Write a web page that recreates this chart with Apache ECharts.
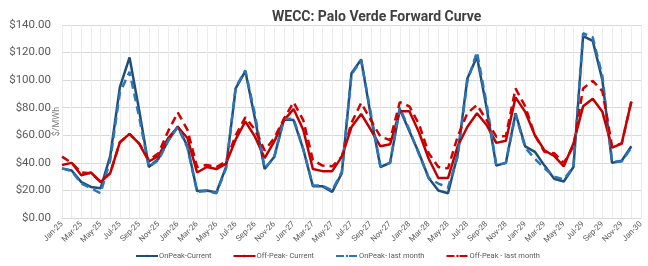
<!DOCTYPE html>
<html>
<head>
<meta charset="utf-8">
<script src="https://cdn.jsdelivr.net/npm/echarts@6/dist/echarts.min.js"></script>
<style>
  html, body { margin: 0; padding: 0; background: #fff; }
  #chart { width: 648px; height: 266px; }
</style>
</head>
<body>
<div id="chart"></div>
<script>
// months Jan-25 .. Jan-30
var months = ['Jan', 'Feb', 'Mar', 'Apr', 'May', 'Jun', 'Jul', 'Aug', 'Sep', 'Oct', 'Nov', 'Dec'];
var categories = [];
for (var y = 25; y <= 29; y++) {
  for (var m = 0; m < 12; m++) categories.push(months[m] + '-' + y);
}
categories.push('Jan-30');

var onPeakCurrent = [36, 34.5, 26, 22.5, 21.5, 45, 95, 116.5, 78, 37, 43, 56,
  66.5, 52, 19.5, 20, 18.5, 37, 94, 106.5, 72, 35.5, 44.5, 71.5,
  71, 50, 23, 23, 19, 32.5, 105, 115, 74, 37, 40, 79,
  63, 47, 29, 20, 18, 46, 101, 117, 80, 38, 40, 76,
  52, 48, 38, 28.5, 26.5, 37, 132, 128.5, 100, 40, 41.5, 52];

var offPeakCurrent = [38.5, 40, 31, 33, 26, 32.5, 55, 61, 54, 41, 45, 58,
  66, 58, 33, 37, 35.5, 39.5, 57, 70, 59, 43.5, 55.5, 71,
  79, 64, 35.5, 34, 34, 44.5, 66, 75.5, 64, 52, 53.5, 77.5,
  77.5, 62, 43, 29, 29, 52, 66, 76, 67.5, 54.5, 56, 87.5,
  77, 60, 49, 45, 37.5, 54, 81, 86.5, 77, 51, 54, 84.5];

var onPeakLast = [36, 34, 25, 21.5, 18, 42, 91, 106, 73, 37, 42, 56,
  66, 51, 19, 19.5, 18, 36, 95, 107, 75, 36, 44, 72,
  72, 50, 23.5, 23.5, 20, 33.5, 104, 114.5, 76, 37.5, 40, 80,
  64, 46, 29, 25, 22, 44.5, 99, 120.5, 83, 38.5, 40, 75,
  51, 43, 36, 30, 28, 37, 134, 131, 103, 41, 41, 51];

var offPeakLast = [44.5, 40, 33, 32.5, 26.5, 32.5, 55, 61, 54, 42, 47, 63,
  76.5, 64, 37, 38.5, 37, 41, 60, 73, 64, 49, 58, 72,
  84, 71, 42, 38, 37.5, 44.5, 69, 83.5, 71, 59, 56.5, 84,
  81, 68, 47, 37, 36, 59, 76, 82, 71, 59, 59.5, 94,
  81, 60, 48, 47, 40, 52, 94, 99.5, 92, 52, 54, 84.5];

var font = 'Roboto, sans-serif';
var chart = echarts.init(document.getElementById('chart'));

function lineSeries(name, data, color, dashed) {
  return {
    name: name,
    type: 'line',
    data: data,
    showSymbol: false,
    symbol: 'none',
    animation: false,
    lineStyle: { color: color, width: 2.5, type: dashed ? [8, 5] : 'solid' },
    itemStyle: { color: color }
  };
}

chart.setOption({
  backgroundColor: '#ffffff',
  textStyle: { fontFamily: font },
  title: {
    text: 'WECC: Palo Verde Forward Curve',
    left: 267,
    top: 5,
    textStyle: { fontSize: 14, fontWeight: 'bold', color: '#404040', fontFamily: font }
  },
  legend: {
    left: 130,
    bottom: 1,
    itemWidth: 22,
    itemHeight: 3,
    itemGap: 21,
    textStyle: { fontSize: 7.5, color: '#595959', fontFamily: font, padding: [0, 0, 0, -4] },
    data: ['OnPeak-Current', 'Off-Peak- Current', 'OnPeak- last month', 'Off-Peak - last month']
  },
  grid: { left: 62, right: 7, top: 25, bottom: 48 },
  xAxis: {
    type: 'category',
    data: categories,
    boundaryGap: false,
    axisLine: { lineStyle: { color: '#d9d9d9' } },
    axisTick: { show: false },
    axisLabel: { interval: 1, rotate: 45, fontSize: 8, color: '#595959', margin: 5 },
    splitLine: { show: true, interval: 0, lineStyle: { color: '#ececec', width: 1 } }
  },
  yAxis: {
    type: 'value',
    min: 0,
    max: 140,
    interval: 20,
    name: '$/MWh',
    nameLocation: 'middle',
    nameRotate: 90,
    nameGap: 1,
    nameMoveOverlap: false,
    nameTextStyle: { fontSize: 9, color: '#7f7f7f' },
    axisLine: { show: false },
    axisTick: { show: false },
    axisLabel: {
      fontSize: 11.5,
      color: '#595959',
      margin: 11,
      formatter: function (v) { return '$' + v.toFixed(2); }
    },
    splitLine: { lineStyle: { color: '#d9d9d9' } }
  },
  series: [
    lineSeries('OnPeak-Current', onPeakCurrent, '#1f4e79', false),
    lineSeries('Off-Peak- Current', offPeakCurrent, '#c00000', false),
    lineSeries('OnPeak- last month', onPeakLast, '#2e75b6', true),
    lineSeries('Off-Peak - last month', offPeakLast, '#d00000', true)
  ]
});
</script>
</body>
</html>
